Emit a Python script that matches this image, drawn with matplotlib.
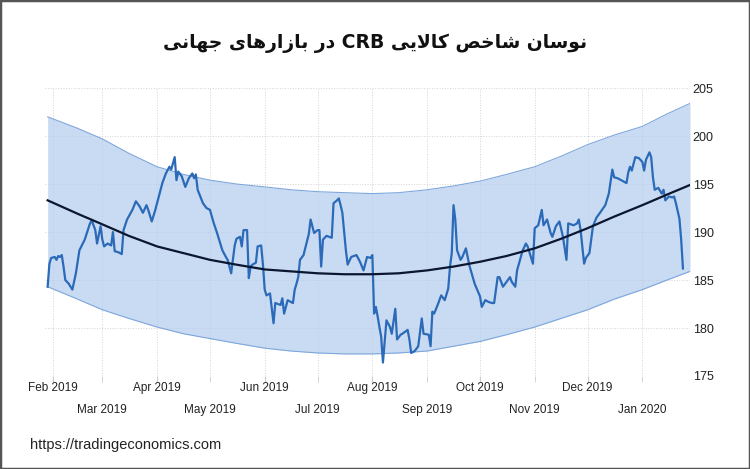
import numpy as np
import pandas as pd
import matplotlib
matplotlib.use('Agg')
import matplotlib.pyplot as plt
import matplotlib.dates as mdates
from matplotlib.patches import Rectangle

TITLE = 'نوسان شاخص کالایی CRB در بازارهای جهانی'
SOURCE = 'https://tradingeconomics.com'

# CRB index: days after 1 Feb 2019 and values
days = [-3, -2, -1, 1, 2, 3, 4, 5, 6, 7, 9, 11, 13, 15, 18, 21, 22, 24, 25, 27,
        28, 29, 31, 33, 34, 35, 37, 39, 40, 42, 45, 47, 49, 51, 53, 54, 56, 58, 60, 62,
        64, 66, 67, 69, 70, 71, 73, 75, 77, 79, 80, 81, 82, 85, 87, 89, 91, 93, 96, 98,
        99, 101, 103, 104, 106, 107, 108, 110, 111, 112, 113, 115, 116, 118, 119, 120, 121, 123, 125, 126,
        129, 130, 131, 133, 135, 136, 137, 138, 139, 140, 142, 145, 146, 148, 150, 151, 152, 153, 155, 158,
        159, 161, 162, 163, 164, 166, 167, 169, 172, 174, 176, 178, 180, 181, 182, 183, 184, 185, 186, 187,
        189, 191, 192, 194, 195, 197, 198, 201, 202, 203, 205, 207, 209, 210, 213, 214, 215, 216, 218, 220,
        222, 224, 225, 226, 227, 228, 229, 231, 232, 234, 236, 239, 242, 243, 245, 247, 249, 250, 252, 253,
        255, 257, 259, 260, 262, 263, 265, 266, 268, 269, 272, 273, 275, 277, 278, 280, 282, 283, 285, 287,
        289, 291, 292, 295, 297, 298, 299, 301, 302, 304, 306, 308, 310, 313, 315, 317, 318, 320, 323, 325,
        326, 327, 328, 330, 332, 334, 335, 336, 338, 339, 340, 341, 343, 345, 346, 347, 349, 351, 352, 353,
        355, 356, 357]
crb = [184.3, 186.7, 187.3, 187.4, 187.1, 187.5, 187.4, 187.6, 186.4, 185.0, 184.6, 184.0, 185.7, 188.1, 189.2, 190.9, 191.2, 190.2, 188.8, 190.6,
       189.2, 188.5, 188.8, 188.6, 190.0, 188.0, 187.9, 187.7, 190.2, 191.3, 192.3, 193.2, 192.7, 192.0, 192.8, 192.3, 191.1, 192.3, 193.7, 195.1,
       196.1, 196.8, 196.5, 197.8, 195.4, 196.3, 195.8, 194.7, 195.6, 196.1, 195.6, 196.0, 194.4, 193.0, 192.5, 192.3, 191.0, 189.9, 188.1, 187.4,
       187.1, 185.7, 188.6, 189.3, 189.5, 188.5, 190.2, 190.2, 185.2, 186.4, 186.6, 186.8, 188.5, 188.6, 186.6, 184.0, 183.4, 183.6, 180.5, 182.6,
       182.4, 183.1, 181.5, 182.9, 182.7, 182.6, 184.0, 184.6, 185.3, 187.1, 187.6, 189.8, 191.3, 189.9, 190.2, 190.2, 186.4, 189.2, 189.6, 189.4,
       193.0, 193.3, 193.5, 192.8, 192.0, 188.1, 186.6, 187.4, 187.6, 186.9, 186.0, 187.4, 187.3, 187.6, 181.5, 182.2, 181.2, 180.1, 179.1, 176.4,
       180.8, 180.1, 179.4, 182.0, 178.8, 179.3, 179.4, 179.8, 178.8, 177.4, 177.6, 178.1, 181.0, 179.4, 179.3, 178.1, 181.7, 181.5, 182.4, 183.4,
       182.9, 184.1, 186.4, 187.8, 192.8, 191.3, 188.1, 187.1, 187.4, 188.3, 186.5, 184.6, 183.3, 182.2, 182.9, 182.7, 182.6, 182.6, 185.3, 185.3,
       184.3, 184.8, 185.3, 184.8, 184.3, 186.0, 187.3, 188.0, 188.8, 188.5, 186.7, 190.4, 190.7, 192.3, 190.7, 191.3, 189.9, 189.5, 190.6, 191.1,
       189.5, 187.1, 190.9, 190.7, 190.9, 191.3, 190.2, 186.7, 187.3, 187.8, 190.6, 191.5, 192.0, 192.8, 194.0, 196.5, 195.7, 195.6, 195.3, 195.1,
       196.2, 196.8, 196.4, 197.8, 197.7, 197.3, 196.4, 197.5, 198.3, 197.8, 195.7, 194.4, 194.6, 194.0, 194.4, 193.3, 193.7, 193.6, 193.7, 193.0,
       191.4, 189.2, 186.2]

# regression curve and its band, read at month starts and mid-months
band_dates = ['2019-01-29', '2019-02-15', '2019-03-01', '2019-03-16', '2019-04-01',
              '2019-04-16', '2019-05-01', '2019-05-16', '2019-06-01', '2019-06-16',
              '2019-07-01', '2019-07-16', '2019-08-01', '2019-08-16', '2019-09-01',
              '2019-09-16', '2019-10-01', '2019-10-16', '2019-11-01', '2019-11-16',
              '2019-12-01', '2019-12-16', '2020-01-01', '2020-01-15', '2020-01-28']
trend = [193.3, 191.9, 190.8, 189.6, 188.5, 187.8, 187.1, 186.6, 186.1, 185.9, 185.7, 185.6, 185.6,
         185.7, 186.0, 186.4, 186.9, 187.5, 188.3, 189.3, 190.4, 191.6, 192.8, 193.9, 194.9]
band_hi = [202.0, 200.8, 199.7, 198.2, 196.8, 196.0, 195.4, 195.0, 194.7, 194.4, 194.2, 194.1, 194.0,
           194.1, 194.4, 194.8, 195.3, 196.0, 196.8, 197.9, 199.1, 200.1, 201.0, 202.3, 203.4]
band_lo = [184.3, 183.0, 181.9, 181.0, 180.1, 179.4, 178.9, 178.4, 177.9, 177.6, 177.4, 177.3, 177.3,
           177.4, 177.6, 178.1, 178.6, 179.3, 180.1, 181.0, 181.9, 183.0, 184.0, 185.0, 185.9]

yticks = [175, 180, 185, 190, 195, 200, 205]

# ---- minimal Persian shaping (matplotlib has no bidi / joining) ----
FORMS = {
    '\u0646': ('\ufee5', '\ufee6', '\ufee7', '\ufee8'),  # noon
    '\u0648': ('\ufeed', '\ufeee', None, None),          # waw
    '\u0633': ('\ufeb1', '\ufeb2', '\ufeb3', '\ufeb4'),  # seen
    '\u0627': ('\ufe8d', '\ufe8e', None, None),          # alef
    '\u0634': ('\ufeb5', '\ufeb6', '\ufeb7', '\ufeb8'),  # sheen
    '\u062e': ('\ufea5', '\ufea6', '\ufea7', '\ufea8'),  # khah
    '\u0635': ('\ufeb9', '\ufeba', '\ufebb', '\ufebc'),  # sad
    '\u06a9': ('\ufb8e', '\ufb8f', '\ufb90', '\ufb91'),  # keheh
    '\u0644': ('\ufedd', '\ufede', '\ufedf', '\ufee0'),  # lam
    '\u06cc': ('\ufbfc', '\ufbfd', '\ufbfe', '\ufbff'),  # farsi yeh
    '\u062f': ('\ufea9', '\ufeaa', None, None),          # dal
    '\u0631': ('\ufead', '\ufeae', None, None),          # reh
    '\u0628': ('\ufe8f', '\ufe90', '\ufe91', '\ufe92'),  # beh
    '\u0632': ('\ufeaf', '\ufeb0', None, None),          # zain
    '\u0647': ('\ufee9', '\ufeea', '\ufeeb', '\ufeec'),  # heh
    '\u062c': ('\ufe9d', '\ufe9e', '\ufe9f', '\ufea0'),  # jeem
    'LA': ('\ufefb', '\ufefc', None, None),              # lam-alef
}


def shape_word(word):
    toks = []
    i = 0
    while i < len(word):
        if word[i] == '\u0644' and i + 1 < len(word) and word[i + 1] == '\u0627':
            toks.append('LA')
            i += 2
        else:
            toks.append(word[i])
            i += 1

    def dual(t):
        return t in FORMS and FORMS[t][2] is not None

    out = []
    for k, t in enumerate(toks):
        if t not in FORMS:
            out.append(t)
            continue
        iso, fin, ini, med = FORMS[t]
        jp = k > 0 and dual(toks[k - 1])
        jn = k < len(toks) - 1 and dual(t) and toks[k + 1] in FORMS
        if jp and jn:
            out.append(med)
        elif jp:
            out.append(fin)
        elif jn:
            out.append(ini)
        else:
            out.append(iso)
    return ''.join(out)


def rtl(text):
    words = []
    for w in text.split(' '):
        if w.isascii():
            words.append(w)
        else:
            words.append(shape_word(w)[::-1])
    return ' '.join(words[::-1])


plt.rcParams['font.family'] = ['Liberation Sans', 'DejaVu Sans']

base = pd.Timestamp('2019-02-01')
dates = base + pd.to_timedelta(days, unit='D')
bd = pd.to_datetime(band_dates)

fig = plt.figure(figsize=(7.5, 4.69), dpi=100)
ax = fig.add_axes([0.06, 0.1983, 0.86, 0.614])

ax.fill_between(bd, band_lo, band_hi, color='#b4cdee', alpha=0.72, lw=0, zorder=1)
ax.plot(bd, band_hi, color='#7ea7dc', lw=0.8, zorder=2)
ax.plot(bd, band_lo, color='#7ea7dc', lw=0.8, zorder=2)
ax.plot(dates, crb, color='#2a6ab8', lw=1.6, zorder=3)
ax.plot(bd, trend, color='#0b1630', lw=1.6, zorder=4)

ax.set_xlim(base - pd.Timedelta(days=4.5), base + pd.Timedelta(days=361))
ax.set_ylim(175, 205)

ax.yaxis.tick_right()
ax.set_yticks(yticks)
ax.tick_params(axis='y', length=0, pad=2, labelsize=9, labelcolor='#222222')

ax.xaxis.set_major_locator(mdates.MonthLocator(bymonth=[2, 4, 6, 8, 10, 12]))
ax.xaxis.set_minor_locator(mdates.MonthLocator(bymonth=[1, 3, 5, 7, 9, 11]))
ax.xaxis.set_major_formatter(mdates.DateFormatter('%b %Y'))
ax.xaxis.set_minor_formatter(mdates.DateFormatter('%b %Y'))
ax.tick_params(axis='x', which='major', length=4, color='#cccccc', pad=0.5,
               labelsize=8.5, labelcolor='#222222')
ax.tick_params(axis='x', which='minor', length=4, color='#cccccc', pad=16.5,
               labelsize=8.5, labelcolor='#222222')

ax.grid(True, which='both', axis='x', color='#d3d3d3', lw=0.7, ls=':', zorder=0)
ax.grid(True, which='major', axis='y', color='#d3d3d3', lw=0.7, ls=':', zorder=0)
ax.set_axisbelow(True)
for s in ax.spines.values():
    s.set_visible(False)

fig.text(0.5, 0.908, rtl(TITLE), ha='center', va='center', fontsize=13.5,
         fontweight='bold', family=['DejaVu Sans'], color='#111111')
fig.text(0.04, 0.051, SOURCE, ha='left', va='center', fontsize=10.5, color='#222222')

fig.patches.append(Rectangle((0, 0), 1, 1, transform=fig.transFigure, fill=False,
                             edgecolor='#555555', lw=2.5))

fig.savefig('out.png', dpi=100)
